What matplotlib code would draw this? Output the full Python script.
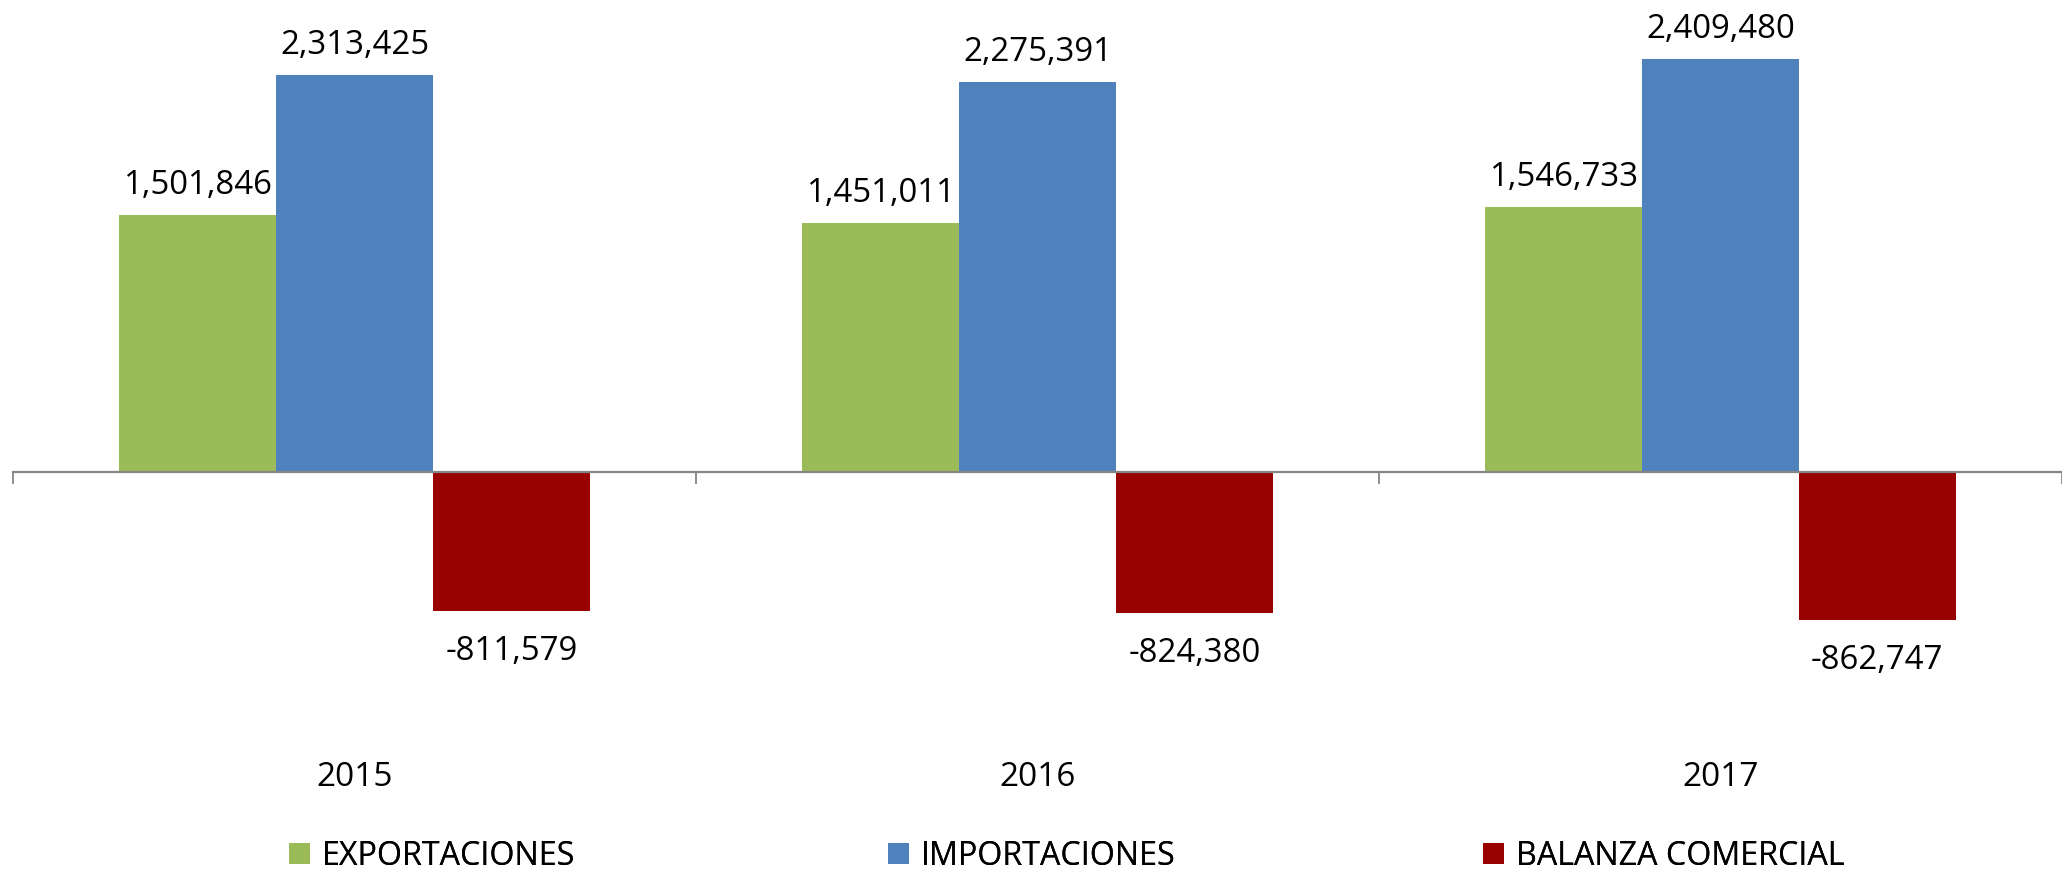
import matplotlib
matplotlib.use("Agg")
import matplotlib.pyplot as plt
import numpy as np

# ---- data ----
years = ["2015", "2016", "2017"]
exportaciones = [1501846, 1451011, 1546733]
importaciones = [2313425, 2275391, 2409480]
balanza = [-811579, -824380, -862747]
series_names = ["EXPORTACIONES", "IMPORTACIONES", "BALANZA COMERCIAL"]
colors = ["#9BBB59", "#4F81BD", "#990000"]

plt.rcParams["font.family"] = ["Open Sans", "DejaVu Sans"]

W, H, DPI = 2062, 872, 100
fig = plt.figure(figsize=(W / DPI, H / DPI), dpi=DPI)

cat_px = 686.0
left_px = 13.0
ax = fig.add_axes([left_px / W, 0.0, 1 - left_px / W, 1.0])
ax.set_xlim(-0.5, -0.5 + (W - left_px) / cat_px)
px_per_val = 1 / 5833.0
zero_px = 472.0
ax.set_ylim(-(H - zero_px) / px_per_val, zero_px / px_per_val)

x = np.arange(len(years))
bw = 157.5 / cat_px
all_series = [exportaciones, importaciones, balanza]
containers = []
for i, (vals, col) in enumerate(zip(all_series, colors)):
    bc = ax.bar(x + (i - 1) * bw, vals, width=bw, color=col, edgecolor="none",
                label=series_names[i], zorder=2)
    containers.append(bc)
    for xi, v in zip(x + (i - 1) * bw, vals):
        txt = f"{v:,}"
        if v >= 0:
            ax.annotate(txt, (xi, v), xytext=(0, 21 * 72 / DPI), textcoords="offset points",
                        ha="center", va="baseline", fontsize=23.8, color="black")
        else:
            ax.annotate(txt, (xi, v), xytext=(0, -49 * 72 / DPI), textcoords="offset points",
                        ha="center", va="baseline", fontsize=23.8, color="black")

# axis styling
for s in ["top", "right", "left"]:
    ax.spines[s].set_visible(False)
ax.spines["bottom"].set_position(("data", 0))
ax.spines["bottom"].set_color("#868686")
ax.spines["bottom"].set_linewidth(1.6)
ax.spines["bottom"].set_zorder(3)
ax.set_yticks([])
ax.set_xticks(np.arange(-0.5, len(years), 1.0))
ax.set_xticklabels([])
ax.tick_params(axis="x", direction="out", length=12 * 72 / DPI, width=1.3, color="#868686")

for xi, yr in zip(x, years):
    ax.text(xi, (H - 777) / H, yr, transform=ax.get_xaxis_transform(),
            ha="center", va="center", fontsize=24, color="black")

# legend: three equally spaced entries
leg_x = [289, 888, 1483]
for bc, name, lx in zip(containers, series_names, leg_x):
    lg = fig.legend([bc.patches[0]], [name], loc="center left",
                    bbox_to_anchor=(lx / W, (H - 856.5) / H), frameon=False,
                    fontsize=23.2, handlelength=0.65, handleheight=0.65,
                    handletextpad=0.36, borderpad=0, borderaxespad=0)
    fig.add_artist(lg)

fig.savefig("out.png", dpi=DPI)
